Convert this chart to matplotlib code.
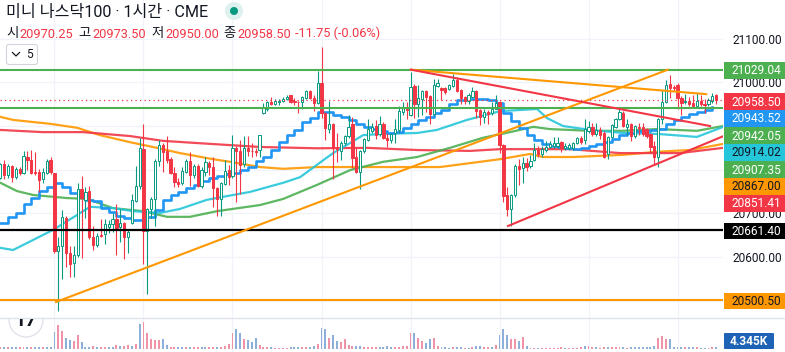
import numpy as np
import matplotlib
matplotlib.use("Agg")
import matplotlib.pyplot as plt
from matplotlib.patches import Circle, Rectangle, FancyBboxPatch

plt.rcParams['font.family'] = ['Roboto', 'Noto Sans CJK KR', 'DejaVu Sans']

# hourly candles
opens = [20781,20813,20787,20808,20783,20801,20792,20829,20822,20795,20795,20779,20792,20822,20792,20614,20625,20690,20610,20587,
         20605,20755,20730,20752,20645,20627,20650,20652,20668,20675,20687,20668,20677,20645,20678,20728,20762,20848,20660,20710,
         20732,20820,20857,20842,20825,20792,20772,20770,20795,20819,20787,20808,20762,20795,20815,20805,20758,20733,20768,20800,
         20785,20850,20842,20812,20850,20843,20842,20845,20930,20938,20955,20950,20955,20957,20962,20970,20957,20955,20954,20965,
         20980,20965,20952,20998,20930,20893,20905,20850,20842,20860,20877,20905,20830,20795,20842,20869,20888,20901,20881,20905,
         20872,20868,20883,20890,20932,20943,20925,20991,20950,20963,20980,20968,20928,20991,20986,20986,20985,20992,21005,20983,
         20966,20958,20966,20980,20937,20921,20932,20930,20940,20955,20857,20742,20710,20742,20808,20803,20815,20808,20823,20845,
         20836,20845,20853,20855,20855,20863,20850,20850,20849,20860,20873,20868,20888,20898,20882,20890,20885,20835,20875,20897,
         20915,20930,20897,20905,20877,20898,20898,20893,20882,20855,20828,20916,20955,20996,20989,20995,20964,20955,20958,20953,
         20946,20958,20951,20950,20958,20970.25]
highs = [20815,20822,20812,20810,20805,20806,20843,20843,20845,20840,20801,20804,20825,20830,20792,20645,20708,20695,20625,20625,
         20770,20785,20760,20762,20672,20655,20688,20688,20685,20700,20722,20710,20680,20665,20745,20808,20872,20904,20712,20738,
         20825,20868,20862,20877,20830,20806,20780,20806,20825,20840,20812,20812,20805,20828,20820,20830,20760,20772,20822,20810,
         20880,20855,20868,20878,20878,20860,20850,20860,20953,20958,20967,20963,20963,20967,20970,20970,20965,20957,20968,20982,
         20982,20972,21025,21081,20932,20957,20907,20885,20865,20880,20925,20920,20852,20845,20873,20915,20908,20914,20923,20910,
         20885,20885,20915,20946,20955,20955,21023,20997,20994,20982,20982,20970,21007,21007,20990,20990,20996,21019,21010,20985,
         20968,20975,20990,20982,20940,20938,20937,20955,20970,20957,20859,20760,20745,20812,20824,20830,20827,20833,20862,20854,
         20855,20865,20865,20875,20875,20865,20860,20860,20863,20875,20878,20915,20912,20908,20907,20897,20888,20878,20904,20918,
         20938,20935,20915,20907,20902,20908,20908,20895,20884,20865,20918,20982,21005,21017,20993,20998,20968,20973,20967,20970,
         20975,20970,20963,20965,20975,20973.5]
lows = [20778,20778,20780,20771,20778,20788,20790,20800,20790,20788,20750,20770,20790,20790,20610,20477,20550,20577,20555,20555,
        20600,20598,20690,20642,20616,20622,20645,20630,20655,20658,20605,20635,20595,20610,20675,20725,20755,20585,20515,20690,
        20672,20808,20795,20816,20790,20760,20760,20766,20792,20762,20780,20760,20758,20785,20788,20715,20695,20695,20765,20765,
        20780,20725,20745,20805,20832,20830,20832,20830,20927,20935,20948,20947,20948,20955,20960,20953,20947,20930,20938,20962,
        20963,20935,20950,20918,20868,20885,20778,20818,20822,20856,20872,20804,20793,20755,20838,20866,20885,20870,20878,20870,
        20852,20860,20860,20885,20925,20915,20923,20918,20921,20925,20932,20905,20925,20990,20960,20973,20983,20990,20978,20950,
        20950,20950,20964,20918,20902,20908,20905,20925,20938,20838,20727,20693,20670,20738,20765,20770,20797,20803,20820,20828,
        20830,20840,20850,20850,20850,20840,20845,20846,20846,20858,20858,20858,20885,20878,20878,20870,20827,20825,20872,20895,
        20913,20898,20880,20865,20873,20880,20878,20873,20840,20810,20805,20905,20952,20965,20980,20940,20925,20950,20945,20942,
        20944,20945,20930,20945,20953,20950]
closes = [20813,20787,20808,20783,20801,20792,20831,20822,20792,20793,20776,20795,20820,20795,20614,20625,20692,20610,20585,20605,
          20755,20735,20750,20645,20628,20648,20648,20676,20676,20688,20667,20677,20645,20658,20730,20762,20850,20660,20710,20733,
          20820,20857,20840,20822,20792,20772,20768,20796,20820,20787,20808,20762,20800,20818,20805,20758,20733,20770,20798,20783,
          20850,20842,20810,20850,20843,20842,20840,20880,20942,20955,20950,20957,20958,20963,20967,20955,20954,20954,20966,20980,
          20965,20953,20998,20930,20895,20905,20850,20847,20862,20878,20898,20827,20795,20842,20870,20893,20898,20880,20905,20872,
          20868,20882,20893,20935,20942,20937,20989,20950,20965,20980,20966,20928,20994,20998,20982,20978,20994,21005,20980,20964,
          20958,20970,20980,20935,20920,20933,20928,20940,20953,20857,20740,20710,20742,20808,20802,20815,20805,20820,20846,20836,
          20848,20853,20858,20860,20862,20850,20855,20856,20860,20873,20863,20893,20898,20882,20890,20880,20830,20875,20902,20915,
          20932,20900,20905,20877,20900,20896,20882,20878,20852,20828,20915,20955,20995,20988,20986,20964,20953,20958,20950,20946,
          20958,20951,20948,20960,20969,20958.5]

# volume in thousands, 1 = blue, 0 = pink
volumes = [4.3,4.3,4.3,4.3,4.3,4.3,4.3,4.3,4.3,4.3,4.3,4.3,4.3,4.3,36.9,52,39,23.9,19.5,17.4,
           30.4,15.2,4.3,4.3,6.5,4.3,4.3,4.3,4.3,4.3,8.7,6.5,6.5,8.7,6.5,10.9,54,58.6,34.7,21.7,
           19.5,19.5,21.7,8.7,4.3,4.3,4.3,4.3,4.3,4.3,4.3,4.3,4.3,4.3,4.3,4.3,4.3,4.3,6.5,10.9,
           34.7,43.4,34.7,21.7,19.5,15.2,23.9,8.7,4.3,4.3,4.3,2.2,2.2,2.2,2.2,4.3,4.3,4.3,4.3,4.3,
           4.3,6.5,10.9,45.6,43.4,23.9,30.4,17.4,15.2,21.7,8.7,6.5,6.5,6.5,4.3,4.3,4.3,4.3,4.3,4.3,
           6.5,4.3,4.3,4.3,6.5,6.5,34.7,34.7,23.9,17.4,13,21.7,23.9,6.5,4.3,4.3,2.2,4.3,4.3,4.3,
           2.2,2.2,4.3,6.5,6.5,4.3,4.3,4.3,8.7,30.4,43.4,30.4,21.7,21.7,17.4,26,6.5,2.2,2.2,2.2,
           2.2,2.2,2.2,2.2,2.2,4.3,2.2,2.2,2.2,2.2,4.3,6.5,6.5,4.3,4.3,2.2,4.3,4.3,4.3,4.3,
           4.3,4.3,2.2,4.3,4.3,4.3,4.3,4.3,4.3,6.5,23.9,28.2,21.7,21.7,4.3,4.3,4.3,4.3,4.3,4.3,
           4.3,2.2,2.2,2.2,4.3,4.345]
volume_up = [0,1,0,1,1,0,0,1,0,1,1,0,1,1,1,0,0,1,1,0,
             0,1,1,1,0,1,0,0,1,1,0,1,0,0,1,0,1,0,0,0,
             0,0,1,1,0,0,1,1,0,1,0,0,1,1,0,0,1,0,0,0,
             0,1,1,0,1,1,1,0,0,0,1,0,0,0,0,1,1,1,0,0,
             1,1,0,1,1,0,1,1,0,0,0,0,1,1,0,0,0,0,1,1,
             1,1,0,0,0,0,0,1,0,0,1,1,0,0,1,1,1,0,1,1,
             0,1,0,1,1,0,0,1,0,1,1,1,0,0,1,0,1,0,0,1,
             0,0,0,0,0,0,1,0,0,0,0,1,0,0,1,0,0,1,0,0,
             0,1,0,1,1,1,1,1,1,1,0,0,0,1,1,1,1,0,1,1,
             0,1,1,0,0,1]

# stepped blue line, one value every second bar
blue_values = [20678,20692,20701,20721,20735,20751,20760,20770,20760,20747,20737,20731,20728,20712,20703,20694,20689,20685,20685,20692,
               20708,20731,20742,20749,20758,20765,20774,20781,20786,20790,20792,20799,20806,20820,20829,20845,20863,20879,20891,20909,
               20918,20932,20932,20925,20921,20914,20905,20898,20893,20889,20884,20886,20896,20905,20914,20921,20930,20937,20950,20960,
               20962,20962,20962,20960,20953,20930,20912,20896,20879,20868,20859,20854,20852,20850,20848,20850,20854,20859,20863,20870,
               20879,20884,20889,20889,20891,20893,20905,20914,20921,20928,20932,20937,20943.5]

orange_ma_bars = [0,3.3,12.9,19.8,25.8,33.5,40.5,46.4,55,59.4,67.1,73.1,81.8,94.8,107.7,113.6,129.1,136.9,140.2,148,160.9,169.7,178.2,186.8]
orange_ma = [20921,20914,20905,20896,20879,20863,20850,20838,20824,20818,20806,20802,20806,20806,20806,20806,20824,20836,20829,20829,20834,20841,20845,20859]
red_ma_bars = [0,11,21.4,33.5,42,50.8,67.1,81.8,94.8,107.7,121.4,129.1,147.2,160.1,175.6,186.8]
red_ma = [20891,20886,20886,20877,20866,20861,20852,20849,20850,20845,20843,20847,20847,20838,20838,20850]
green_ma_bars = [0,4.3,8.5,17.2,22.4,29.1,36.9,43.1,49,56,67.1,73.1,81.8,90.4,98.9,107.7,116.2,124.7,131.7,137.7,142,152.4,160.9,169.7,180,186.8]
green_ma = [20770,20751,20742,20735,20733,20712,20705,20692,20692,20705,20719,20733,20765,20799,20818,20829,20850,20873,20886,20898,20893,20889,20889,20893,20889,20900]
cyan_ma_bars = [0,3.3,6.9,13.6,19.8,23.2,29.1,34.3,41.3,46.4,53.4,60.1,64.5,73.1,77.5,81.8,86,90.4,93.7,98.9,107.7,112.8,120.6,129.1,138.7,141.3,145.4,152.4,160.9,169.7,180,186.8]
cyan_ma = [20621,20616,20632,20662,20696,20715,20712,20705,20701,20710,20731,20742,20749,20770,20783,20811,20838,20861,20879,20882,20884,20891,20914,20934,20939,20918,20900,20891,20884,20882,20875,20898]

# horizontal levels and trend lines
green_levels = [21029.04, 20942.05]
black_level = 20661.40
orange_level = 20500.50
last_price = 20958.50
trend_orange_up = ([14.4, 172.5], [20497, 21029])
trend_orange_down = ([106.1, 182.4], [21029, 20973])
trend_red_down = ([106.1, 183.4], [21029, 20900])
trend_red_up = ([131.2, 186.9], [20671, 20877])

price_ticks = [20500, 20600, 20700, 20800, 20900, 21000, 21100]
price_tick_labels = ['', '20600.00', '20700.00', '', '', '21000.00', '21100.00']
session_bars = [14, 37, 60, 83, 106, 129, 152, 175]

title = '미니 나스닥100 · 1시간 · CME'
ohlc_names = ['시', '고', '저', '종']
ohlc_values = ['20970.25', '20973.50', '20950.00', '20958.50']
change_text = '-11.75 (-0.06%)'
tags = ['21029.04', '20958.50', '20943.52', '20942.05', '20914.02', '20907.35', '20867.00', '20851.41', '20661.40', '20500.50']
tag_y = [70.7, 101.7, 118.7, 135.7, 152.7, 169.7, 186.5, 203.3, 231, 301]
tag_bg = ['#4CAF50', '#F23645', '#2196F3', '#4CAF50', '#26C6DA', '#4CAF50', '#FF9800', '#F23645', '#000000', '#FF9800']
tag_fg = ['white', 'white', 'white', 'white', '#131722', 'white', '#131722', 'white', 'white', '#131722']

UP = '#089981'
DOWN = '#F23645'
GRID = '#F0F3FA'

W, H = 785, 352
fig = plt.figure(figsize=(W / 100, H / 100), dpi=100)
ax = fig.add_axes([0, 34 / H, 723 / W, 318 / H])
vol_ax = fig.add_axes([0, 0, 723 / W, 34 / H])
top = fig.add_axes([0, 0, 1, 1])
top.set_xlim(0, W)
top.set_ylim(H, 0)
top.axis('off')
top.patch.set_alpha(0)

n = len(opens)
bars = np.arange(n)
o, h, l, c = map(np.array, (opens, highs, lows, closes))
is_up = c >= o
colors = np.where(is_up, UP, DOWN)

# moving averages sit behind the candles
ma_style = dict(lw=1.6, alpha=0.9, zorder=2)
ax.plot(orange_ma_bars, orange_ma, color='#FF9800', **ma_style)
ax.plot(red_ma_bars, red_ma, color=DOWN, **ma_style)
ax.plot(green_ma_bars, green_ma, color='#4CAF50', **ma_style)
ax.plot(cyan_ma_bars, cyan_ma, color='#26C6DA', **ma_style)
ax.step(np.arange(len(blue_values)) * 2, blue_values, where='post', color='#2196F3', lw=1.9, zorder=2.5)

ax.vlines(bars, l, h, colors=colors, lw=0.8, zorder=3)
ax.bar(bars, np.maximum(np.abs(c - o), 1), bottom=np.minimum(o, c), width=0.58,
       color=np.where(is_up, 'white', DOWN), edgecolor=colors, linewidth=0.7, zorder=4)

# drawings on top
for level in green_levels:
    ax.axhline(level, color='#4CAF50', lw=1.5, zorder=5)
ax.axhline(black_level, color='black', lw=1.6, zorder=5)
ax.axhline(orange_level, color='#FF9800', lw=1.5, zorder=5)
ax.axhline(last_price, color=DOWN, lw=0.9, ls=(0, (1, 2.6)), zorder=5)
ax.plot(*trend_orange_up, color='#FF9800', lw=1.5, zorder=5)
ax.plot(*trend_orange_down, color='#FF9800', lw=1.5, zorder=5)
ax.plot(*trend_red_down, color=DOWN, lw=1.5, zorder=5)
ax.plot(*trend_red_up, color=DOWN, lw=1.5, zorder=5)

xlim = (-0.08, 186.75)
ax.set_xlim(xlim)
ax.set_ylim(20460.3, 21188.6)
ax.set_xticks(session_bars)
ax.set_xticklabels([])
ax.set_yticks(price_ticks)
ax.set_yticklabels(price_tick_labels, fontsize=8.6, color='#131722')
ax.yaxis.tick_right()
ax.tick_params(length=0, pad=6.5)
ax.tick_params(axis='x', pad=0)
ax.grid(color=GRID, lw=0.9, zorder=0)
ax.set_axisbelow(True)
for s in ax.spines.values():
    s.set_visible(False)

vol_colors = ['#8DB0DA' if u else '#F093A6' for u in volume_up]
vol_ax.bar(bars, volumes, width=0.5, color=vol_colors, zorder=2)
vol_ax.set_xlim(xlim)
vol_ax.set_ylim(-6.5, 67.3)
vol_ax.set_xticks(session_bars)
vol_ax.set_yticks([])
vol_ax.set_xticklabels([])
vol_ax.tick_params(length=0)
vol_ax.grid(axis='x', color=GRID, lw=0.9, zorder=0)
vol_ax.set_axisbelow(True)
for s in vol_ax.spines.values():
    s.set_visible(False)

# pane separator and the logo cut off by it
top.plot([0, W], [318, 318], color='#E0E3EB', lw=1.0, zorder=2)
clip = Rectangle((0, 318.5), 60, 33, transform=top.transData, visible=False)
top.add_patch(clip)
ring = Circle((26, 320), 17, fc='white', ec='#E0E3EB', lw=1.0, zorder=1)
top.add_patch(ring)
ring.set_clip_path(clip)
logo = top.text(26, 326, '17', fontsize=14, fontweight='bold', color='#131722', ha='center', va='baseline', zorder=3)
logo.set_clip_path(clip)
logo.set_clip_on(True)

# right price tags
for label, y, bg, fg in zip(tags, tag_y, tag_bg, tag_fg):
    top.add_patch(Rectangle((724, y - 8.4), 61, 16.8, fc=bg, ec='none', zorder=4))
    top.text(756.5, y + 0.3, label, color=fg, fontsize=8.6, ha='center', va='center', zorder=5)
top.add_patch(FancyBboxPatch((724, 333), 50, 16, boxstyle='round,pad=0,rounding_size=1', fc='#1E63B5', ec='none', zorder=4))
top.text(749, 341.3, '4.345K', color='white', fontsize=8.6, fontweight='bold', ha='center', va='center', zorder=5)

# header
top.text(6.5, 17, title, fontsize=11.6, color='#131722', va='baseline', zorder=6)
top.add_patch(Circle((234, 11), 9, fc='#DDF1EE', ec='none', zorder=6))
top.add_patch(Circle((234, 11), 4, fc=UP, ec='none', zorder=7))

name_x = [6, 78, 151, 223]
value_x = [19, 92, 165, 237]
for x, name in zip(name_x, ohlc_names):
    top.text(x, 37.5, name, fontsize=9.6, color='#131722', va='baseline', zorder=6)
for x, val in zip(value_x, ohlc_values):
    top.text(x, 37.5, val, fontsize=9.2, color=DOWN, va='baseline', zorder=6)
top.text(295, 37.5, change_text, fontsize=9.2, color=DOWN, va='baseline', zorder=6)

# collapse button
top.add_patch(FancyBboxPatch((6.5, 44.5), 31, 20, boxstyle='round,pad=0,rounding_size=2.5', fc='white', ec='#D1D4DC', lw=0.8, zorder=6))
top.plot([12.5, 16, 19.5], [52.5, 56, 52.5], color='#131722', lw=0.9, zorder=7)
top.text(29, 54.5, '5', fontsize=8.6, color='#131722', ha='center', va='center', zorder=7)

fig.savefig('out.png', dpi=100)
